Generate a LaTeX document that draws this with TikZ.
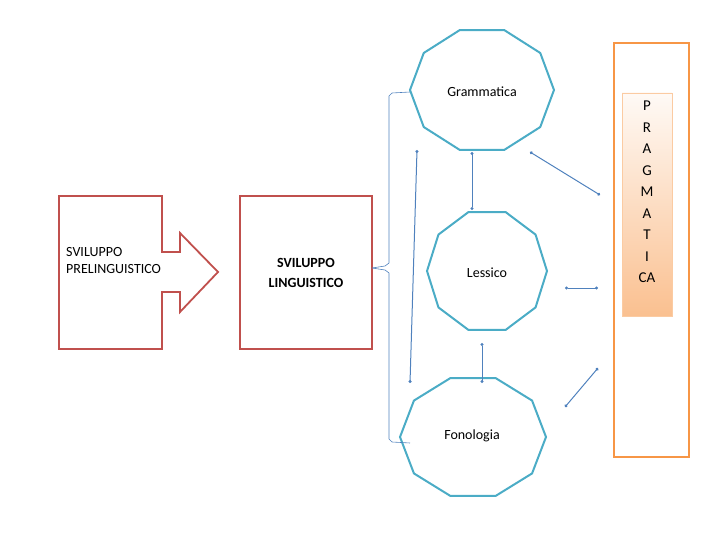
\documentclass[tikz,border=0pt]{standalone}
\usepackage{fontspec}
\setmainfont{Carlito}
\usetikzlibrary{arrows.meta}
\definecolor{boxred}{HTML}{C0504D}
\definecolor{decateal}{HTML}{4BACC6}
\definecolor{pragorange}{HTML}{F79646}
\definecolor{linkblue}{HTML}{4F81BD}
\newcommand{\decagon}[4]{% name, center, rx, ry
  \coordinate (#1) at #2;
  \draw[decateal,line width=2pt] ($(#1)+(0:#3 and #4)$)
    \foreach \a in {36,72,...,324} { -- ($(#1)+(\a:#3 and #4)$) } -- cycle;}
\usetikzlibrary{calc}
\begin{document}
\begin{tikzpicture}[x=1pt,y=-1pt,
  redbox/.style={draw=boxred,line width=1.8pt},
  link/.style={draw=linkblue,line width=1pt,{Circle[length=3pt]}-{Circle[length=3pt]}},
  font=\fontsize{14}{17}\selectfont]
  \useasboundingbox (0,0) rectangle (720,540);
  % left arrow box
  \draw[redbox] (59,196) -- (162,196) -- (162,252) -- (180,252) -- (180,233) -- (218,272)
    -- (180,312) -- (180,292) -- (162,292) -- (162,349) -- (59,349) -- cycle;
  \node[align=left,anchor=west,inner sep=0] (pre) at (66,261) {SVILUPPO\\PRELINGUISTICO};
  \node[redbox,minimum width=132,minimum height=153,inner sep=0,align=center,font=\fontsize{14}{20}\selectfont\bfseries] (ling) at (306,272.5) {SVILUPPO\\LINGUISTICO};
  % decagons
  \decagon{gram}{(482,90)}{72}{63}
  \decagon{less}{(487,271)}{60}{62}
  \decagon{fono}{(473,437)}{73}{62}
  \node (tg) at (482,92) {Grammatica};
  \node (tl) at (487,273) {Lessico};
  \node (tf) at (472,436) {Fonologia};
  % pragmatica
  \draw[draw=pragorange,line width=1.8pt] (614,43) rectangle (689,457);
  \shade[top color=pragorange!5,bottom color=pragorange!60,draw=pragorange!50] (622,93) rectangle (672,316);
  \node[align=center,font=\fontsize{15}{21.5}\selectfont] (prag) at (647,192) {P\\R\\A\\G\\M\\A\\T\\I\\CA};
  % brace
  \coordinate (bt) at (410,92);
  \coordinate (bb) at (410,443);
  \draw[linkblue,line width=0.6pt] (372,268) -- (385,266) -- (389,263) -- (389,96) -- (392,93) -- (bt);
  \draw[linkblue,line width=0.6pt] (372,268) -- (385,270) -- (389,273) -- (389,439) -- (392,442) -- (bb);
  % links
  \coordinate (v1) at (417,150);
  \coordinate (v2) at (410,383);
  \draw[link] (v1) -- (v2);
  \draw[link] (472,152) -- (472,210);
  \draw[link] (482,343) -- (482,383);
  \draw[link] (530,152) -- (600,195);
  \draw[link] (565,288) -- (598,288);
  \draw[link] (565,407) -- (598,368);
\end{tikzpicture}
\end{document}
